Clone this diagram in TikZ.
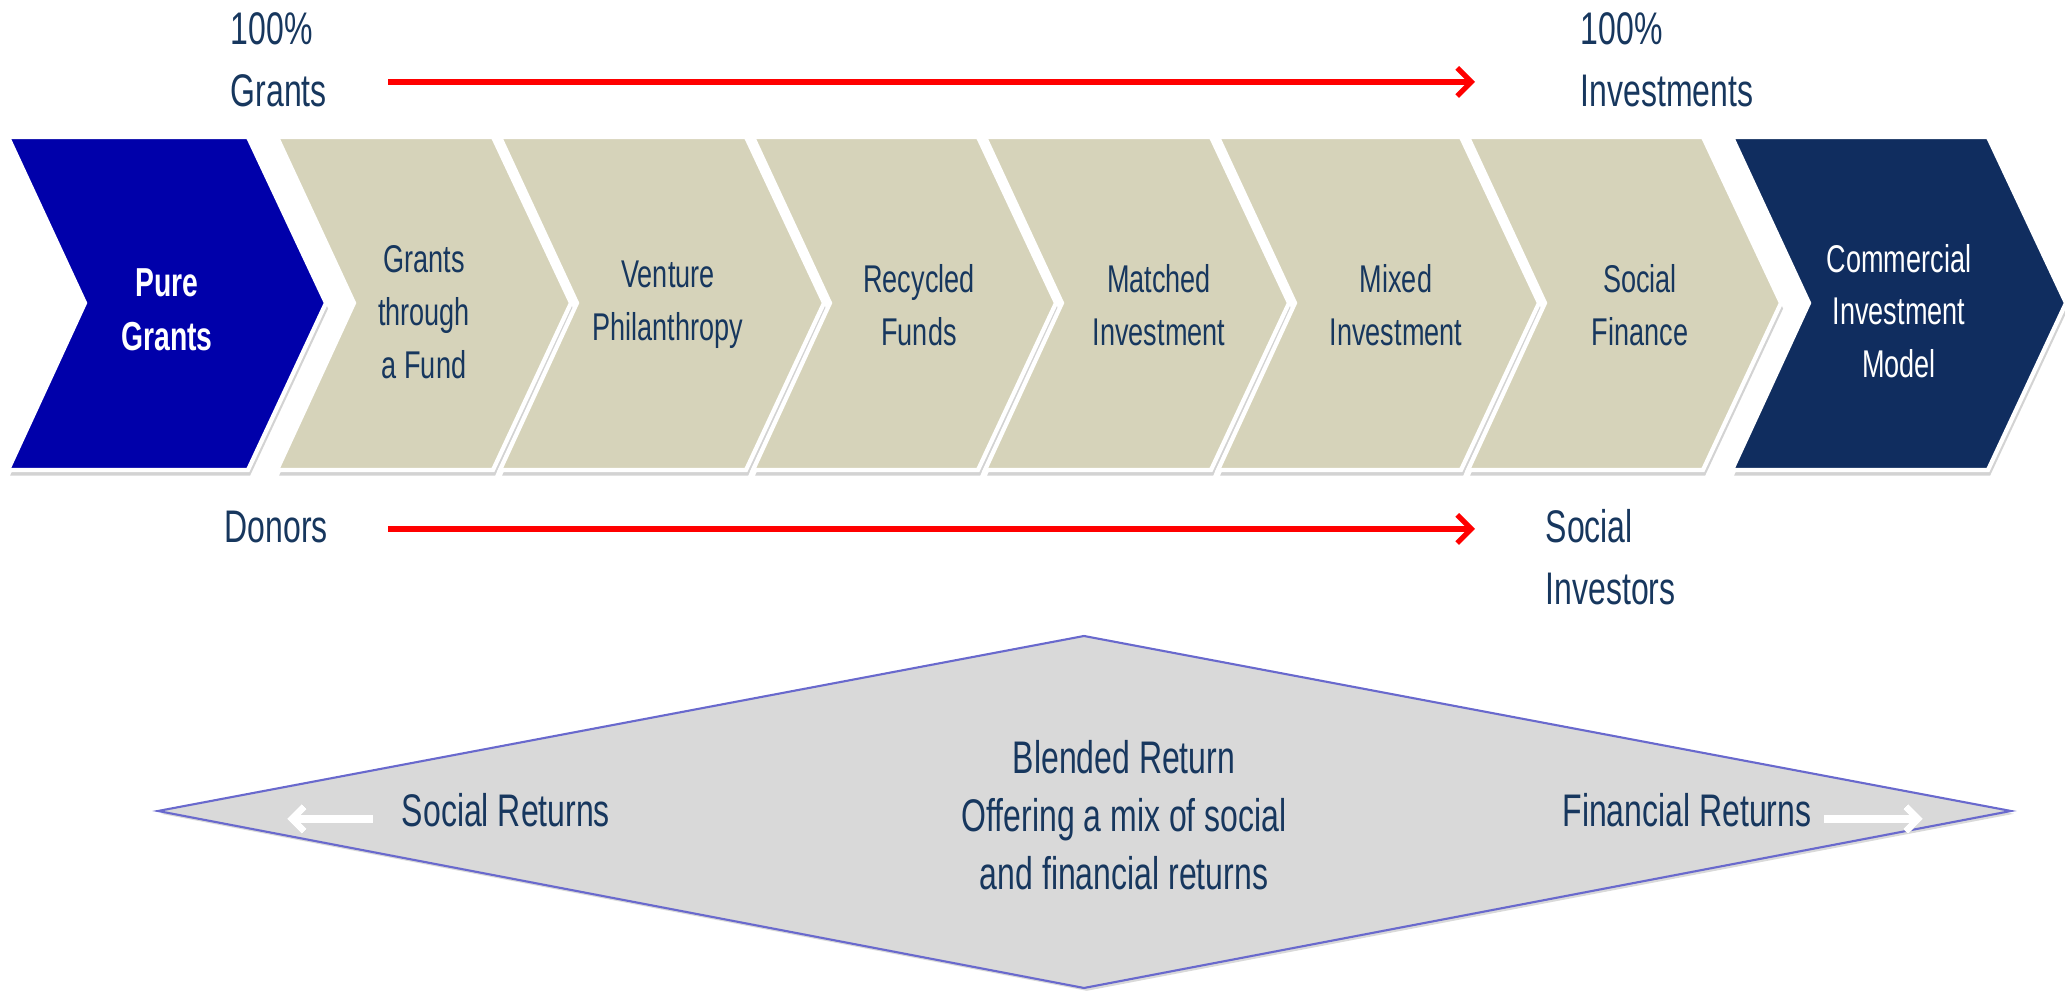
\documentclass[tikz,border=0pt]{standalone}
\usepackage{fontspec}
\setmainfont{Liberation Sans}[FakeStretch=0.7]
\usepackage{tikz}
\usetikzlibrary{arrows.meta,shadows}
\definecolor{tanfill}{RGB}{214,211,186}
\definecolor{purefill}{RGB}{0,0,170}
\definecolor{navyfill}{RGB}{16,45,95}
\definecolor{navytext}{RGB}{23,55,94}
\definecolor{rimcol}{RGB}{105,105,205}
% one chevron: left edge, right edge, colour
\newcommand{\chev}[3]{%
  \fill[#3, draw=white, line width=1.2pt, chevshadow] (#1,137) -- (#2,137) -- ({#2+78},303)
    -- (#2,470) -- (#1,470) -- ({#1+77},303) -- cycle;}

\begin{document}
\begin{tikzpicture}[x=0.01cm, y=-0.01cm,
    chevshadow/.style={drop shadow={shadow xshift=0.6pt, shadow yshift=-1.6pt, opacity=0.35}},
    chevtxt/.style={font=\fontsize{11}{15}\selectfont, text=navytext, align=center, inner sep=0pt},
    lbl/.style={font=\fontsize{13}{17.5}\selectfont, text=navytext, align=left, inner sep=0pt},
    midtxt/.style={font=\fontsize{13}{16.5}\selectfont, text=navytext, align=center, inner sep=0pt},
    redarrow/.style={red, line width=1.5pt, -{Straight Barb[length=4pt, width=8pt, line width=1.5pt]}},
    whitearrow/.style={white, line width=2pt, -{Straight Barb[length=3.5pt, width=7pt]}},
    greyarrow/.style={black!35, line width=2pt, -{Straight Barb[length=3.5pt, width=7pt]}}]
  \useasboundingbox (0,0) rectangle (2065,995);

  % top and bottom labels
  \node[lbl, anchor=west] (grants) at (230,60) {100\%\\Grants};
  \node[lbl, anchor=west] (invest) at (1580,60) {100\%\\Investments};
  \node[lbl, anchor=west] (donors) at (224,527) {Donors};
  \node[lbl, anchor=west] (socinv) at (1545,557) {Social\\Investors};

  \coordinate (topL) at (388,82);
  \coordinate (topR) at (1475,82);
  \coordinate (botL) at (388,529);
  \coordinate (botR) at (1475,529);
  \draw[redarrow] (topL) -- (topR);
  \draw[redarrow] (botL) -- (botR);

  % chevrons
  \chev{8}{248}{purefill}
  \chev{277}{493}{tanfill}
  \chev{500}{746}{tanfill}
  \chev{753}{978}{tanfill}
  \chev{985}{1211}{tanfill}
  \chev{1218}{1461}{tanfill}
  \chev{1468}{1703}{tanfill}
  \chev{1732}{1988}{navyfill}

  \node[chevtxt, text=white, font=\fontsize{11.5}{15.5}\selectfont\bfseries] (pure) at (167,310) {Pure\\Grants};
  \node[chevtxt] (fund) at (424,312) {Grants\\through\\a Fund};
  \node[chevtxt] (venture) at (668,305) {Venture\\Philanthropy};
  \node[chevtxt] (recycled) at (919,305) {Recycled\\Funds};
  \node[chevtxt] (matched) at (1159,305) {Matched\\Investment};
  \node[chevtxt] (mixed) at (1396,305) {Mixed\\Investment};
  \node[chevtxt] (socfin) at (1640,305) {Social\\Finance};
  \node[chevtxt, text=white] (commercial) at (1899,311) {Commercial\\Investment\\Model};

  % blended return diamond
  \filldraw[fill=black!15, draw=rimcol, line width=0.6pt,
    drop shadow={shadow xshift=0.8pt, shadow yshift=-0.8pt, opacity=0.3}]
    (158,811) -- (1084,636) -- (2011,811) -- (1084,988) -- cycle;
  \node[midtxt] (blended) at (1124,815) {Blended Return\\Offering a mix of social\\and financial returns};
  \node[midtxt] (socret) at (506,810) {Social Returns};
  \node[midtxt] (finret) at (1687,810) {Financial Returns};

  \coordinate (srFrom) at (373,819);
  \coordinate (srTo) at (287,819);
  \coordinate (frFrom) at (1824,819);
  \coordinate (frTo) at (1923,819);
  \draw[greyarrow, yshift=-1pt] (srFrom) -- (srTo);
  \draw[whitearrow] (srFrom) -- (srTo);
  \draw[greyarrow, yshift=-1pt] (frFrom) -- (frTo);
  \draw[whitearrow] (frFrom) -- (frTo);
\end{tikzpicture}
\end{document}
